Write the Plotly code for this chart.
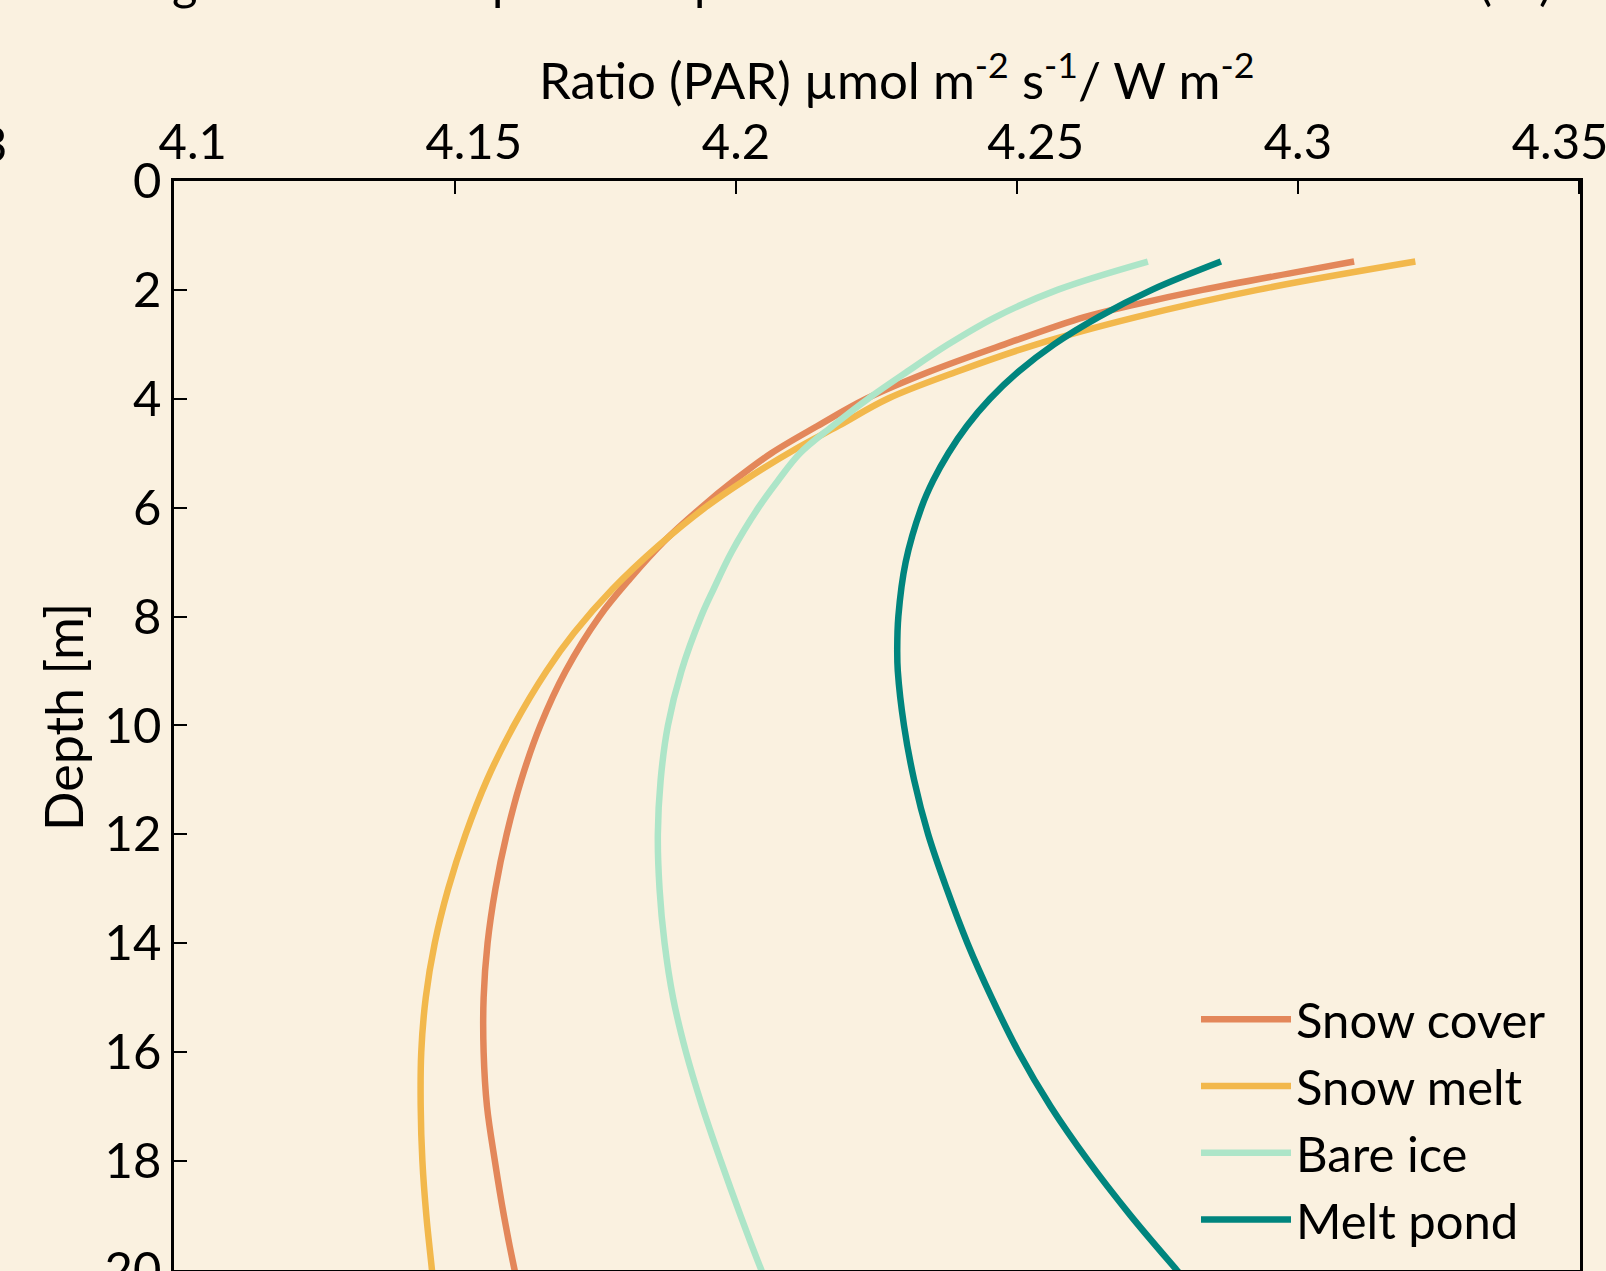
import plotly.graph_objects as go

# ---- data ----
series_names = ["Snow cover", "Snow melt", "Bare ice", "Melt pond"]

depth_snow_cover = [1.48, 1.67, 2.0, 2.27, 2.5, 3.0, 3.5, 4.0, 4.5, 5.0, 5.5, 6.0, 6.6, 7.3, 8.0, 9.0, 10.0, 11.0, 12.0, 13.0, 14.0, 15.0, 16.0, 17.0, 18.0, 19.0, 20.0, 20.5]
ratio_snow_cover = [4.310, 4.300, 4.283, 4.271, 4.262, 4.2478, 4.2345, 4.2232, 4.2145, 4.2063, 4.1997, 4.1938, 4.1874, 4.1812, 4.1757, 4.1697, 4.1652, 4.1618, 4.1592, 4.1572, 4.1558, 4.1551, 4.1551, 4.1557, 4.1571, 4.1587, 4.1606, 4.1617]

depth_snow_melt = [1.48, 2.0, 2.5, 3.0, 3.5, 4.0, 4.5, 4.9, 5.5, 6.0, 6.7, 7.5, 8.3, 9.0, 10.0, 11.0, 12.0, 13.0, 14.0, 15.0, 16.0, 17.0, 18.0, 19.0, 20.0, 20.5]
ratio_snow_melt = [4.3209, 4.2928, 4.2712, 4.2535, 4.2394, 4.2270, 4.2182, 4.2110, 4.2015, 4.1945, 4.1862, 4.1780, 4.1712, 4.1663, 4.1605, 4.1557, 4.1519, 4.1488, 4.1464, 4.1448, 4.1440, 4.1439, 4.1442, 4.1449, 4.1459, 4.1464]

depth_bare_ice = [1.48, 2.0, 2.5, 3.0, 3.5, 4.0, 4.5, 5.0, 5.5, 6.0, 6.8, 7.5, 8.0, 9.0, 10.0, 11.0, 12.0, 13.0, 14.0, 15.0, 16.0, 17.0, 18.0, 19.0, 20.0, 20.5]
ratio_bare_ice = [4.2733, 4.2572, 4.2462, 4.2378, 4.2305, 4.2235, 4.2172, 4.2114, 4.2075, 4.2040, 4.1993, 4.1960, 4.1938, 4.1903, 4.1879, 4.1866, 4.1861, 4.1864, 4.1873, 4.1888, 4.1911, 4.1940, 4.1973, 4.2008, 4.2045, 4.2065]

depth_melt_pond = [1.48, 2.0, 2.5, 3.0, 3.5, 4.0, 4.5, 5.0, 5.5, 6.0, 7.0, 8.0, 8.6, 9.0, 10.0, 11.0, 12.0, 13.0, 14.0, 15.0, 16.0, 17.0, 18.0, 19.0, 20.0, 20.5]
ratio_melt_pond = [4.2863, 4.2740, 4.2645, 4.2566, 4.2503, 4.2452, 4.2411, 4.2378, 4.2351, 4.2330, 4.2302, 4.2289, 4.2287, 4.2288, 4.2299, 4.2317, 4.2342, 4.2375, 4.2412, 4.2455, 4.2503, 4.2560, 4.2627, 4.2702, 4.2784, 4.2826]

series_colors = ["#E3875A", "#F2B84C", "#ADE5C8", "#00857E"]

NB = "\u00a0"
x_tickvals = [4.1, 4.15, 4.2, 4.25, 4.3, 4.35]
x_ticktext = [NB * 3 + "4.1", NB * 3 + "4.15", "4.2", NB * 3 + "4.25", "4.3", "4.35" + NB * 3]
y_tickvals = [0, 2, 4, 6, 8, 10, 12, 14, 16, 18, 20]

x_title = "Ratio (PAR) µmol m<sup>-2</sup> s<sup>-1</sup>/ W m<sup>-2</sup>"
y_title = "Depth [m]"

FONT = "Lato"
BG = "#FAF1E0"

fig = go.Figure()
all_depths = [depth_snow_cover, depth_snow_melt, depth_bare_ice, depth_melt_pond]
all_ratios = [ratio_snow_cover, ratio_snow_melt, ratio_bare_ice, ratio_melt_pond]
for name, xs, ys, col in zip(series_names, all_ratios, all_depths, series_colors):
    fig.add_trace(go.Scatter(
        x=xs, y=ys, mode="lines", name=name, legendgroup=name,
        line=dict(color=col, width=6.5, shape="spline", smoothing=1.0),
    ))

axis_common = dict(
    showline=True, linecolor="black", linewidth=2.5, mirror=True,
    ticks="inside", ticklen=13, tickwidth=2, tickcolor="black",
    showgrid=False, zeroline=False, automargin=False,
    ticklabeloverflow="allow",
    tickfont=dict(family=FONT, size=49, color="black"),
)

fig.update_xaxes(side="top", range=[4.1, 4.3502], tickvals=x_tickvals,
                 ticktext=x_ticktext, **axis_common)
fig.update_yaxes(range=[20.004, 0], tickvals=y_tickvals, **axis_common)

L, R, T, B = 174, 26, 181, 1
W, H = 1606, 1271
pw, ph = W - L - R, H - T - B

def px_x(p):
    return (p - L) / pw

def px_y(p):
    return (H - B - p) / ph

annotations = [
    dict(text=x_title, x=px_x(896), y=px_y(76), xanchor="center", yanchor="middle",
         font=dict(family=FONT, size=51, color="black")),
    dict(text=y_title, x=px_x(63), y=px_y(717), xanchor="center", yanchor="middle",
         textangle=-90, font=dict(family=FONT, size=52, color="black")),
    dict(text="3", x=px_x(9), y=px_y(143), xanchor="right", yanchor="middle"),
    dict(text="g", x=px_x(184), y=px_y(12), xanchor="center", yanchor="bottom"),
    dict(text="p", x=px_x(505), y=px_y(12), xanchor="center", yanchor="bottom"),
    dict(text="p", x=px_x(707), y=px_y(12), xanchor="center", yanchor="bottom"),
    dict(text="(", x=px_x(1485), y=px_y(12), xanchor="center", yanchor="bottom"),
    dict(text=")", x=px_x(1545), y=px_y(12), xanchor="center", yanchor="bottom"),
]
for a in annotations:
    a.update(xref="paper", yref="paper", showarrow=False)
    a.setdefault("font", dict(family=FONT, size=49, color="black"))

fig.update_layout(
    width=W, height=H,
    margin=dict(l=L, r=R, t=T, b=B, pad=0, autoexpand=False),
    paper_bgcolor=BG, plot_bgcolor=BG,
    font=dict(family=FONT, size=49, color="black"),
    showlegend=True,
    legend=dict(
        x=px_x(1196), y=px_y(981), xanchor="left", yanchor="top",
        bgcolor="rgba(0,0,0,0)", borderwidth=0,
        font=dict(family=FONT, size=49, color="black"),
        itemwidth=90, tracegroupgap=0, traceorder="grouped",
    ),
    annotations=annotations,
)

fig.write_html("out.html",
               config={"displayModeBar": False},
               post_script="document.body.style.margin='0';document.body.style.padding='0';")
